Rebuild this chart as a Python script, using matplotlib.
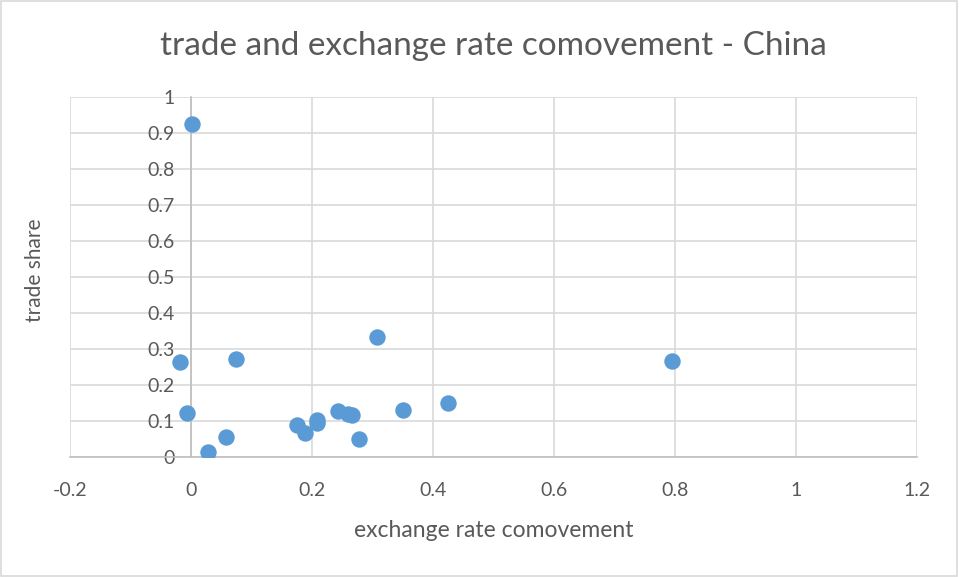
import numpy as np
import matplotlib.pyplot as plt
from matplotlib.patches import Rectangle

# exchange rate comovement vs trade share
comovement = [0.002, -0.018, 0.075, -0.007, 0.028, 0.058, 0.175, 0.189,
              0.208, 0.209, 0.243, 0.260, 0.266, 0.277, 0.308, 0.350, 0.424, 0.795]
trade_share = [0.924, 0.265, 0.273, 0.123, 0.014, 0.056, 0.090, 0.066,
               0.103, 0.094, 0.128, 0.119, 0.117, 0.049, 0.332, 0.131, 0.149, 0.267]

x_ticks = np.round(np.arange(-0.2, 1.21, 0.2), 1)
y_ticks = np.round(np.arange(0, 1.01, 0.1), 1)

txt = '#595959'
grid = '#d9d9d9'
plt.rcParams['font.family'] = ['Lato', 'DejaVu Sans']

fig = plt.figure(figsize=(9.59, 5.77), dpi=100)
ax = fig.add_axes([70 / 959, 120 / 577, 847 / 959, 360 / 577])

ax.scatter(comovement, trade_share, s=140, color='#5B9BD5', zorder=3, linewidths=0)

ax.set_xlim(-0.2, 1.2)
ax.set_ylim(0, 1)
ax.set_xticks(x_ticks)
ax.set_yticks(y_ticks)
ax.set_xticklabels([f'{v:g}' for v in x_ticks])
ax.set_yticklabels([f'{v:g}' for v in y_ticks])

for v in x_ticks:
    ax.axvline(v, color=grid, lw=1.2, zorder=1)
for v in y_ticks:
    ax.axhline(v, color=grid, lw=1.2, zorder=1)

for s in ['top', 'right']:
    ax.spines[s].set_visible(False)
ax.spines['left'].set_position(('data', 0))
ax.spines['left'].set_color('#bfbfbf')
ax.spines['bottom'].set_color('#bfbfbf')
ax.spines['left'].set_linewidth(1.2)
ax.spines['bottom'].set_linewidth(1.2)
ax.tick_params(length=0, labelsize=14, colors=txt)
ax.tick_params(axis='x', pad=18)
ax.tick_params(axis='y', pad=12)

ax.set_title('trade and exchange rate comovement - China', fontsize=24, color=txt, pad=30)
ax.set_xlabel('exchange rate comovement', fontsize=16.5, color=txt, labelpad=15)
fig.text(35 / 959, 1 - 270 / 577, 'trade share', rotation=90, fontsize=15, color=txt,
         ha='center', va='center')

fig.patches.append(Rectangle((0.001, 0.001), 0.997, 0.997, transform=fig.transFigure,
                             fill=False, edgecolor='#d9d9d9', lw=1.2))

fig.savefig('out.png', dpi=100)
